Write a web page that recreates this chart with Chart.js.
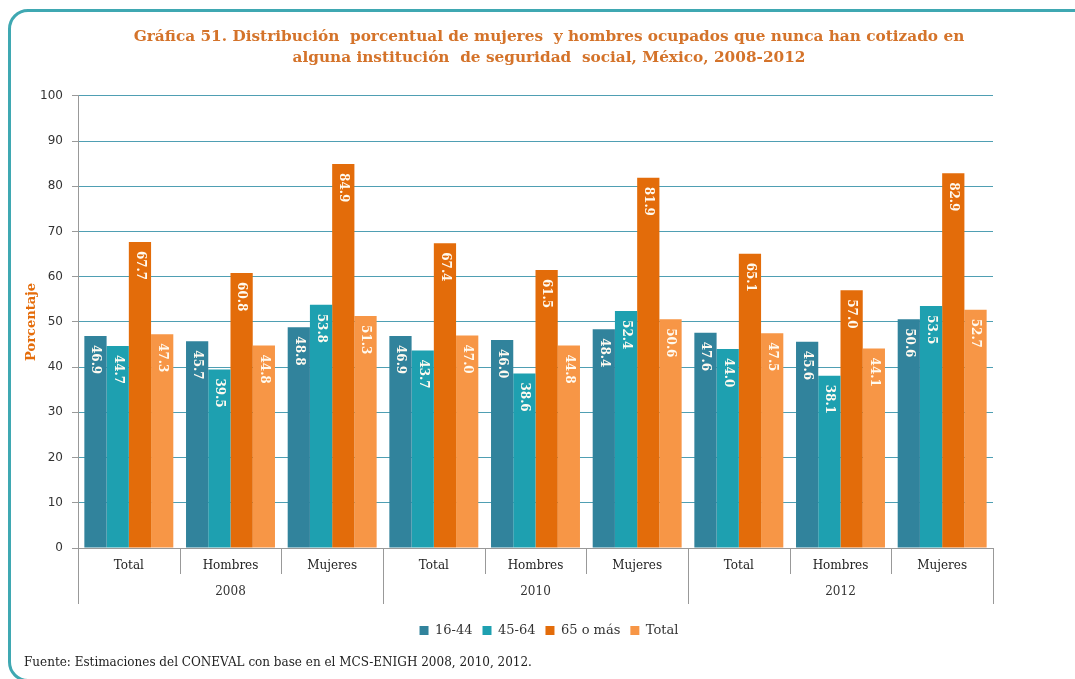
<!DOCTYPE html>
<html>
<head>
<meta charset="utf-8">
<script src="https://cdn.jsdelivr.net/npm/chart.js@4"></script>
<style>
  html, body { margin: 0; padding: 0; background: #fff; overflow: hidden; }
  #wrap { position: relative; width: 1075px; height: 679px; overflow: hidden; }
  #frame { position: absolute; left: 8px; top: 9px; width: 1400px; height: 673px;
           border: 3px solid #3fa8b2; border-radius: 20px; box-sizing: border-box; }
  #chart { position: absolute; left: 0; top: 0; }
  #source { position: absolute; left: 24px; top: 655px; font: 12px "DejaVu Serif", serif; color: #222; }
</style>
</head>
<body>
<div id="wrap">
  <div id="frame"></div>
  <canvas id="chart" width="1075" height="679"></canvas>
  <div id="source">Fuente: Estimaciones del CONEVAL con base en el MCS-ENIGH 2008, 2010, 2012.</div>
</div>
<script>
// data
const years = ['2008', '2010', '2012'];
const groups = ['Total', 'Hombres', 'Mujeres'];
const categories = ['Total', 'Hombres', 'Mujeres', 'Total', 'Hombres', 'Mujeres', 'Total', 'Hombres', 'Mujeres'];
const age16to44 = [46.9, 45.7, 48.8, 46.9, 46.0, 48.4, 47.6, 45.6, 50.6];
const age45to64 = [44.7, 39.5, 53.8, 43.7, 38.6, 52.4, 44.0, 38.1, 53.5];
const age65plus = [67.7, 60.8, 84.9, 67.4, 61.5, 81.9, 65.1, 57.0, 82.9];
const ageTotal = [47.3, 44.8, 51.3, 47.0, 44.8, 50.6, 47.5, 44.1, 52.7];
const yTicks = [0, 10, 20, 30, 40, 50, 60, 70, 80, 90, 100];

const serif = '"DejaVu Serif", serif';
const orange = '#e46c0a';

// rotated value labels inside the top of each bar
const barLabels = {
  id: 'barLabels',
  afterDatasetsDraw(chart) {
    const ctx = chart.ctx;
    ctx.save();
    ctx.font = 'bold 12px ' + serif;
    ctx.fillStyle = '#fffaf0';
    ctx.textAlign = 'left';
    ctx.textBaseline = 'middle';
    chart.data.datasets.forEach((ds, i) => {
      chart.getDatasetMeta(i).data.forEach((bar, j) => {
        ctx.save();
        ctx.translate(bar.x, bar.y + 9);
        ctx.rotate(Math.PI / 2);
        ctx.fillText(ds.data[j].toFixed(1), 0, 0);
        ctx.restore();
      });
    });
    ctx.restore();
  }
};

// category separators and the year row under the x axis
const yearAxis = {
  id: 'yearAxis',
  afterDraw(chart) {
    const x = chart.scales.x;
    const ctx = chart.ctx;
    const step = (x.right - x.left) / categories.length;
    ctx.save();
    ctx.strokeStyle = '#999';
    ctx.lineWidth = 1;
    for (let i = 0; i <= categories.length; i++) {
      const px = Math.round(x.left + i * step) + 0.5;
      const long = i % groups.length === 0;
      ctx.beginPath();
      ctx.moveTo(px, x.top);
      ctx.lineTo(px, x.top + (long ? 56 : 26));
      ctx.stroke();
    }
    ctx.font = '12px ' + serif;
    ctx.fillStyle = '#333';
    ctx.textAlign = 'center';
    ctx.textBaseline = 'middle';
    years.forEach((yr, k) => {
      const cx = x.left + (k * groups.length + groups.length / 2) * step;
      ctx.fillText(yr, cx, x.top + 44);
    });
    ctx.restore();
  }
};

new Chart(document.getElementById('chart'), {
  type: 'bar',
  data: {
    labels: categories,
    datasets: [
      { label: '16-44', data: age16to44, backgroundColor: '#31839c' },
      { label: '45-64', data: age45to64, backgroundColor: '#1ea0b0' },
      { label: '65 o más', data: age65plus, backgroundColor: '#e36c0a' },
      { label: 'Total', data: ageTotal, backgroundColor: '#f79646' }
    ]
  },
  options: {
    responsive: false,
    animation: false,
    layout: { padding: { left: 24, right: 1, top: 12, bottom: 32 } },
    datasets: { bar: { categoryPercentage: 0.875, barPercentage: 1 } },
    plugins: {
      tooltip: { enabled: false },
      title: {
        display: true,
        text: ['Gráfica 51. Distribución  porcentual de mujeres  y hombres ocupados que nunca han cotizado en',
               'alguna institución  de seguridad  social, México, 2008-2012'],
        color: '#d4732a',
        font: { family: serif, size: 15.3, weight: 'bold', lineHeight: 1.4 },
        padding: { top: 14, bottom: 27 }
      },
      legend: {
        position: 'bottom',
        labels: {
          boxWidth: 9, boxHeight: 9, padding: 10, color: '#333',
          font: { family: serif, size: 13 }
        }
      }
    },
    scales: {
      x: {
        grid: { display: false },
        border: { display: true, color: '#999' },
        ticks: { color: '#222', padding: 3, font: { family: serif, size: 12 } },
        afterFit(s) { s.height = 66; }
      },
      y: {
        min: 0, max: 100,
        afterBuildTicks(s) { s.ticks = yTicks.map(v => ({ value: v })); },
        grid: {
          color: c => (c.tick && c.tick.value === 0) ? '#999' : '#4f9fb3',
          tickColor: '#999', tickLength: 6
        },
        border: { color: '#999' },
        ticks: { color: '#333', padding: 9, font: { family: '"DejaVu Sans", sans-serif', size: 12 } },
        title: {
          display: true, text: 'Porcentaje', color: orange,
          font: { family: serif, size: 13, weight: 'bold' }, padding: { top: 0, bottom: 0 }
        },
        afterFit(s) { s.width = 54; }
      },
      yr: {
        position: 'right', display: true,
        grid: { display: false }, border: { display: false }, ticks: { display: false },
        afterFit(s) { s.width = 81; }
      }
    }
  },
  plugins: [barLabels, yearAxis]
});
</script>
</body>
</html>
